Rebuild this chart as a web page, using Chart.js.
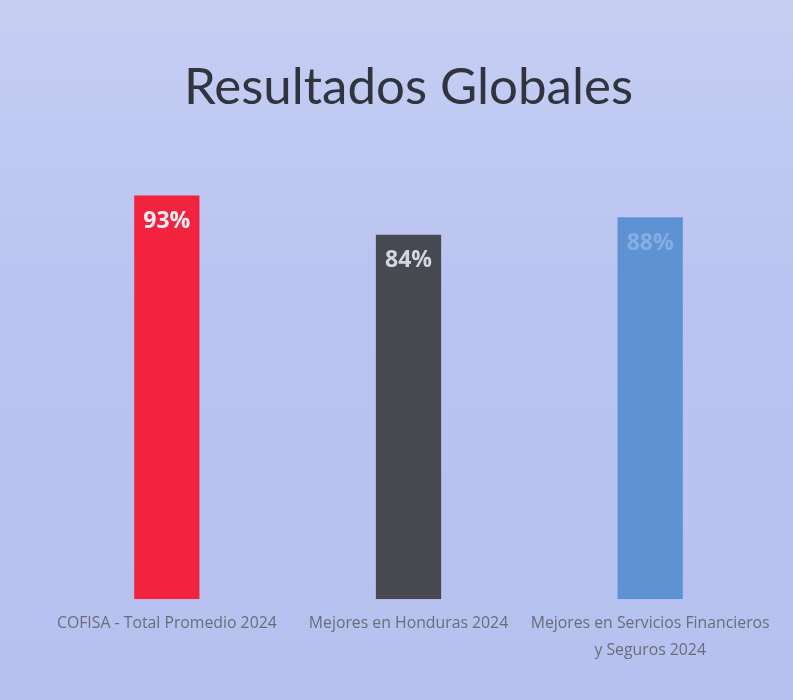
<!DOCTYPE html>
<html>
<head>
<meta charset="utf-8">
<script src="https://cdn.jsdelivr.net/npm/chart.js@4"></script>
<style>
  html, body { margin: 0; padding: 0; }
  body { width: 793px; height: 700px; background: linear-gradient(180deg, #c6cef3 0%, #bac4f0 40%, #b6c1ef 100%); }
  #wrap { width: 793px; height: 700px; position: relative; }
</style>
</head>
<body>
<div id="wrap"><canvas id="c" width="793" height="700"></canvas></div>
<script>
const categories = [
  "COFISA - Total Promedio 2024",
  "Mejores en Honduras 2024",
  ["Mejores en Servicios Financieros", "y Seguros 2024"]
];
const values = [93, 84, 88];
const valueLabels = ["93%", "84%", "88%"];
const barColors = ["#f2233f", "#46494f", "#5e93d3"];
const labelColors = ["#f4f0f4", "#d2d6e2", "#86aee2"];

const valueLabelPlugin = {
  id: 'valueLabels',
  afterDatasetsDraw(chart) {
    const ctx = chart.ctx;
    const meta = chart.getDatasetMeta(0);
    ctx.save();
    ctx.font = 'bold 23px "Open Sans", sans-serif';
    ctx.textAlign = 'center';
    ctx.textBaseline = 'middle';
    meta.data.forEach((bar, i) => {
      ctx.fillStyle = labelColors[i];
      ctx.fillText(valueLabels[i], bar.x, bar.y + 26);
    });
    ctx.restore();
  }
};

new Chart(document.getElementById('c'), {
  type: 'bar',
  data: {
    labels: categories,
    datasets: [{
      data: values,
      backgroundColor: barColors,
      borderWidth: 0,
      barPercentage: 0.54,
      categoryPercentage: 0.5
    }]
  },
  options: {
    responsive: false,
    animation: false,
    layout: { padding: { top: 0, left: 46, right: 22, bottom: 25 } },
    plugins: {
      legend: { display: false },
      tooltip: { enabled: false },
      title: {
        display: true,
        text: 'Resultados Globales',
        color: '#30343f',
        font: { family: 'Lato, "Open Sans", sans-serif', size: 51, weight: 'normal' },
        padding: { top: 57, bottom: 47 }
      }
    },
    scales: {
      x: {
        grid: { display: false, drawTicks: false },
        border: { display: false },
        ticks: {
          color: '#6a6d78',
          padding: 11,
          maxRotation: 0,
          autoSkip: false,
          font: { family: '"Open Sans", sans-serif', size: 15.8, lineHeight: 1.7 }
        }
      },
      y: {
        display: false,
        min: 0,
        max: 100
      }
    }
  },
  plugins: [valueLabelPlugin]
});
</script>
</body>
</html>
